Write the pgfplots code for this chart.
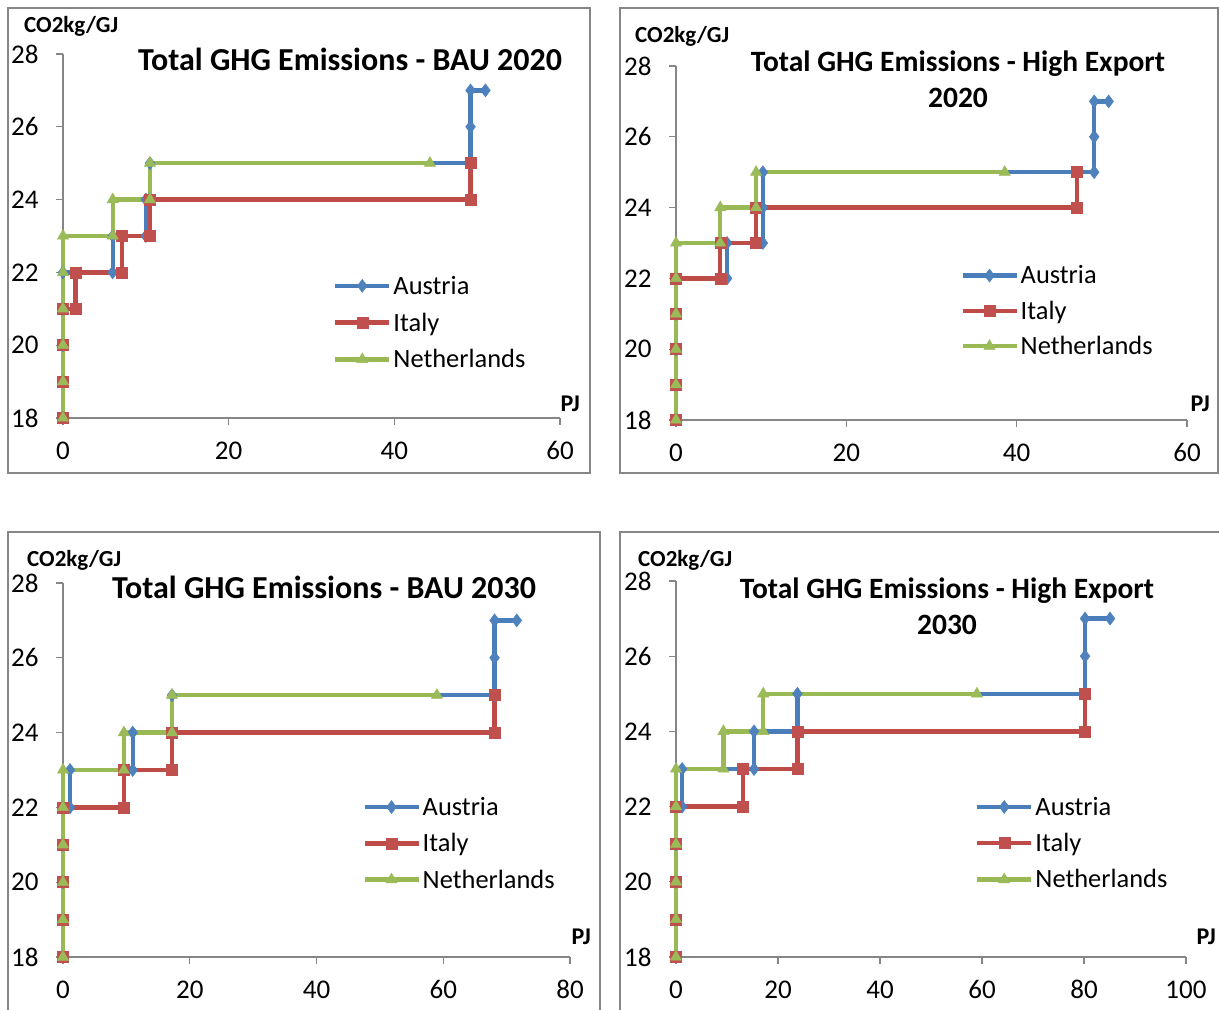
\documentclass[border=0pt]{standalone}
\usepackage{pgfplots}
\pgfplotsset{compat=1.18}
\usepackage{fontspec}
\setmainfont{Carlito}
\definecolor{axgray}{HTML}{868686}
\definecolor{ablue}{HTML}{4A7EBB}
\definecolor{ablueM}{HTML}{4F81BD}
\definecolor{ared}{HTML}{BE4B48}
\definecolor{aredM}{HTML}{C0504D}
\definecolor{agreen}{HTML}{98B954}
\definecolor{agreenM}{HTML}{9BBB59}
\newcommand{\tfont}{\fontsize{27}{32}\selectfont}
\newcommand{\lfont}{\fontsize{26.4}{31}\selectfont}
\pgfplotsset{
  panel/.style={
    scale only axis,
    anchor=south west,
    axis lines*=left,
    axis line style={draw=axgray, line width=1.3pt},
    every tick/.style={draw=axgray, line width=1.3pt},
    tick align=outside,
    major tick length=7pt,
    ymin=18, ymax=28, ytick={18,20,...,28},
    xmin=0,
    tick label style={font=\tfont},
    xticklabel style={yshift=-13pt},
    yticklabel style={xshift=-14pt},
    /pgf/number format/assume math mode=true,
    clip=false,
    legend cell align=left,
    legend image code/.code={\draw[##1,mark repeat=2,mark phase=2] plot coordinates {(0pt,0pt)(27pt,0pt)(54pt,0pt)};},
    legend style={draw=none, fill=none, font=\lfont, inner sep=0pt, anchor=north west,
      nodes={inner sep=2pt}},
  },
  aus/.style={color=ablue, line width=4.4pt, mark=diamond*, mark size=6.5pt, mark options={fill=ablueM, draw=ablueM, line width=0.5pt}},
  ita/.style={color=ared, line width=4.4pt, mark=square*, mark size=5.5pt, mark options={fill=aredM, draw=aredM, line width=0.5pt}},
  ned/.style={color=agreen, line width=4.4pt, mark=triangle*, mark size=6.5pt, mark options={fill=agreenM, draw=agreenM, line width=0.5pt}},
}
\begin{document}
\begin{tikzpicture}[x=1pt,y=1pt]
\path[use as bounding box] (0pt,0pt) rectangle (1219pt,1010pt);
% panel borders
\draw[axgray, line width=1.3pt] (8,1002) rectangle (590,537);
\draw[axgray, line width=1.3pt] (620,1002) rectangle (1218,537);
\draw[axgray, line width=1.3pt] (8,0) -- (8,478) -- (600,478) -- (600,0);
\draw[axgray, line width=1.3pt] (620,0) -- (620,478) -- (1219,478);

% Panel 1: BAU 2020
\begin{axis}[panel, at={(63pt,592pt)}, width=497pt, height=364pt, xmax=60, xtick={0,20,...,60},
  legend style={at={(0.543,0.396)}, row sep=13pt}]
\addplot[aus] coordinates {(0,18)(0,19)(0,20)(0,21)(0,22)(6,22)(6,23)(10,23)(10,24)(10.5,24)(10.5,25)(49.2,25)(49.2,26)(49.2,27)(51,27)};
\addlegendentry{Austria}
\addplot[ita] coordinates {(0,18)(0,19)(0,20)(0,21)(1.5,21)(1.5,22)(7.1,22)(7.1,23)(10.5,23)(10.5,24)(49.2,24)(49.2,25)};
\addlegendentry{Italy}
\addplot[ned] coordinates {(0,18)(0,19)(0,20)(0,21)(0,22)(0,23)(6.0,23)(6.0,24)(10.5,24)(10.5,25)(44.3,25)};
\addlegendentry{Netherlands}
\end{axis}

% Panel 2: High Export 2020
\begin{axis}[panel, at={(676pt,590pt)}, width=511pt, height=354pt, xmax=60, xtick={0,20,...,60},
  legend style={at={(0.556,0.442)}, row sep=11.5pt}]
\addplot[aus] coordinates {(0,18)(0,19)(0,20)(0,21)(0,22)(6.0,22)(6.0,23)(10.2,23)(10.2,24)(10.2,25)(49.1,25)(49.1,26)(49.1,27)(50.8,27)};
\addlegendentry{Austria}
\addplot[ita] coordinates {(0,18)(0,19)(0,20)(0,21)(0,22)(5.2,22)(5.2,23)(9.4,23)(9.4,24)(47.1,24)(47.1,25)};
\addlegendentry{Italy}
\addplot[ned] coordinates {(0,18)(0,19)(0,20)(0,21)(0,22)(0,23)(5.2,23)(5.2,24)(9.4,24)(9.4,25)(38.6,25)};
\addlegendentry{Netherlands}
\end{axis}

% Panel 3: BAU 2030
\begin{axis}[panel, at={(63pt,53pt)}, width=507pt, height=374pt, xmax=80, xtick={0,20,...,80},
  legend style={at={(0.590,0.433)}, row sep=12.5pt}]
\addplot[aus] coordinates {(0,18)(0,19)(0,20)(0,21)(0,22)(1.1,22)(1.1,23)(11,23)(11,24)(17.2,24)(17.2,25)(68.1,25)(68.1,26)(68.1,27)(71.6,27)};
\addlegendentry{Austria}
\addplot[ita] coordinates {(0,18)(0,19)(0,20)(0,21)(0,22)(9.6,22)(9.6,23)(17.2,23)(17.2,24)(68.1,24)(68.1,25)};
\addlegendentry{Italy}
\addplot[ned] coordinates {(0,18)(0,19)(0,20)(0,21)(0,22)(0,23)(9.6,23)(9.6,24)(17.2,24)(17.2,25)(59.0,25)};
\addlegendentry{Netherlands}
\end{axis}

% Panel 4: High Export 2030
\begin{axis}[panel, at={(676pt,53pt)}, width=510pt, height=376pt, xmax=100, xtick={0,20,...,100},
  legend style={at={(0.586,0.431)}, row sep=12.5pt}]
\addplot[aus] coordinates {(0,18)(0,19)(0,20)(0,21)(0,22)(1.2,22)(1.2,23)(15.3,23)(15.3,24)(23.8,24)(23.8,25)(80.2,25)(80.2,26)(80.2,27)(85.1,27)};
\addlegendentry{Austria}
\addplot[ita] coordinates {(0,18)(0,19)(0,20)(0,21)(0,22)(13.1,22)(13.1,23)(23.8,23)(23.8,24)(80.2,24)(80.2,25)};
\addlegendentry{Italy}
\addplot[ned] coordinates {(0,18)(0,19)(0,20)(0,21)(0,22)(0,23)(9.3,23)(9.3,24)(17.1,24)(17.1,25)(59.0,25)};
\addlegendentry{Netherlands}
\end{axis}

% titles and labels
\begin{scope}[every node/.style={inner sep=0pt}]
\node[font=\fontsize{32}{36}\selectfont\bfseries] at (350,951) {Total GHG Emissions - BAU 2020};
\node[font=\fontsize{29.5}{36}\selectfont\bfseries, align=center] at (958,931) {Total GHG Emissions - High Export\\2020};
\node[font=\fontsize{32}{36}\selectfont\bfseries] at (324,423) {Total GHG Emissions - BAU 2030};
\node[font=\fontsize{29.5}{36}\selectfont\bfseries, align=center] at (947,404) {Total GHG Emissions - High Export\\2030};
\node[font=\fontsize{23}{27}\selectfont\bfseries, anchor=west] at (24,984) {CO2kg/GJ};
\node[font=\fontsize{23}{27}\selectfont\bfseries, anchor=west] at (635,974) {CO2kg/GJ};
\node[font=\fontsize{23}{27}\selectfont\bfseries, anchor=west] at (27,450) {CO2kg/GJ};
\node[font=\fontsize{23}{27}\selectfont\bfseries, anchor=west] at (638,450) {CO2kg/GJ};
\node[font=\fontsize{24}{28}\selectfont\bfseries, anchor=east] at (580,606) {PJ};
\node[font=\fontsize{24}{28}\selectfont\bfseries, anchor=east] at (1210,606) {PJ};
\node[font=\fontsize{24}{28}\selectfont\bfseries, anchor=east] at (591,73) {PJ};
\node[font=\fontsize{24}{28}\selectfont\bfseries, anchor=east] at (1216,73) {PJ};
\end{scope}
\end{tikzpicture}
\end{document}
